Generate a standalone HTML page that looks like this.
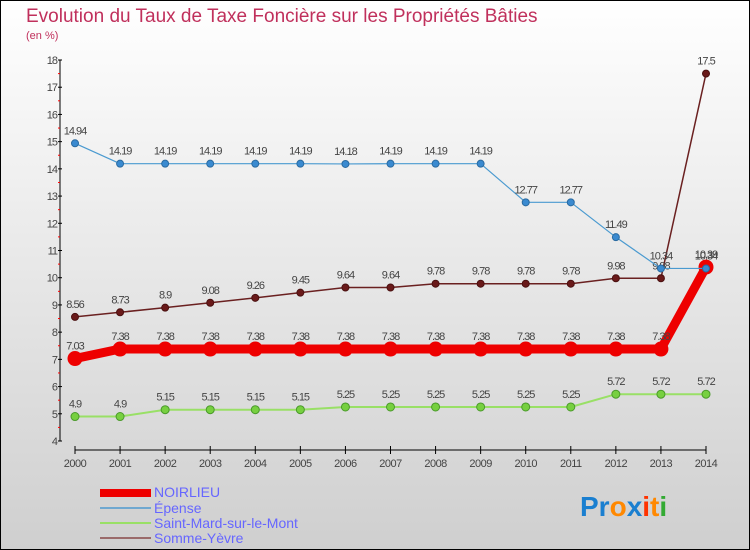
<!DOCTYPE html>
<html><head><meta charset="utf-8"><style>
body{margin:0;width:750px;height:550px;overflow:hidden}
svg{display:block;font-family:"Liberation Sans",sans-serif}
</style></head><body>
<svg id="c" width="750" height="550">
<defs><linearGradient id="bg" x1="0" y1="0" x2="0" y2="1"><stop offset="0" stop-color="#ffffff"/><stop offset="1" stop-color="#cfcfcf"/></linearGradient></defs>
<rect x="0.5" y="0.5" width="749" height="549" fill="url(#bg)" stroke="#000"/>
<text x="26" y="22" font-size="19" fill="#c0305c">Evolution du Taux de Taxe Foncière sur les Propriétés Bâties</text>
<text x="26" y="39" font-size="11" fill="#c0305c">(en %)</text>
<g id="axes"></g><g id="series"></g>
<g>
<rect x="100" y="489" width="51" height="8" fill="#ee0000"/>
<text x="154" y="497" font-size="14" fill="#6666ff">NOIRLIEU</text>
<rect x="100" y="507" width="51" height="2" fill="#6fa8d0"/>
<text x="154" y="513" font-size="14" fill="#6666ff">Épense</text>
<rect x="100" y="522" width="51" height="2" fill="#99e066"/>
<text x="154" y="528" font-size="14" fill="#6666ff">Saint-Mard-sur-le-Mont</text>
<rect x="100" y="537" width="51" height="2" fill="#9a6a6a"/>
<text x="154" y="543" font-size="14" fill="#6666ff">Somme-Yèvre</text>
</g>
<text x="580" y="516" font-size="28" font-weight="bold"><tspan fill="#1a7fd0">Pr</tspan><tspan fill="#ff8800">o</tspan><tspan fill="#1a7fd0">x</tspan><tspan fill="#ff3300">i</tspan><tspan fill="#ff8800">t</tspan><tspan fill="#33aa33">i</tspan></text>
</svg>
<script>
const years=[2000,2001,2002,2003,2004,2005,2006,2007,2008,2009,2010,2011,2012,2013,2014];
const noirlieu=[7.03,7.38,7.38,7.38,7.38,7.38,7.38,7.38,7.38,7.38,7.38,7.38,7.38,7.38,10.39];
const epense=[14.94,14.19,14.19,14.19,14.19,14.19,14.18,14.19,14.19,14.19,12.77,12.77,11.49,10.34,10.34];
const saintMard=[4.9,4.9,5.15,5.15,5.15,5.15,5.25,5.25,5.25,5.25,5.25,5.25,5.72,5.72,5.72];
const sommeYevre=[8.56,8.73,8.9,9.08,9.26,9.45,9.64,9.64,9.78,9.78,9.78,9.78,9.98,9.98,17.5];
const yTicks=[4,5,6,7,8,9,10,11,12,13,14,15,16,17,18];
const NS="http://www.w3.org/2000/svg";
const X=i=>75+i*(631/14), Y=v=>441-(v-4)*(381/14);
function mk(t,a,p){const e=document.createElementNS(NS,t);for(const k in a)e.setAttribute(k,a[k]);p.appendChild(e);return e;}
const ax=document.getElementById('axes');
let yl=mk('line',{x1:60,y1:60,x2:60,y2:441,stroke:'#000','stroke-width':1},ax);


let xl=mk('line',{x1:75,y1:450,x2:706,y2:450,stroke:'#000','stroke-width':1},ax);


yTicks.forEach(v=>{const y=Y(v);
 mk('line',{x1:58,y1:y,x2:62,y2:y,stroke:'#000'},ax);
 if(v<18)mk('line',{x1:58,y1:Y(v+0.5),x2:60,y2:Y(v+0.5),stroke:'#f00'},ax);
 const t=mk('text',{x:57,y:y+4,'font-size':11,fill:'#444','text-anchor':'end','letter-spacing':'-1'},ax);t.textContent=v;
 
 
});
years.forEach((yr,i)=>{const x=X(i);
 mk('line',{x1:x,y1:446,x2:x,y2:454,stroke:'#000'},ax);
 const t=mk('text',{x:x,y:467,'font-size':11,fill:'#444','text-anchor':'middle','letter-spacing':'-0.5'},ax);t.textContent=yr;
 
 
});
const sg=document.getElementById('series');
function draw(vals,name,color,dot,w,r,stroke){
 const g=mk('g',{},sg);
 
 
 const pl=mk('polyline',{points:vals.map((v,i)=>X(i)+','+Y(v)).join(' '),fill:'none',stroke:color,'stroke-width':w,'stroke-linejoin':'round'},g);
 
 
 vals.forEach((v,i)=>{
  const c=mk('circle',{cx:X(i),cy:Y(v),r:r,fill:dot,stroke:stroke,'stroke-width':1},g);
  
  
  const t=mk('text',{x:X(i),y:Y(v)-9,'font-size':11,fill:'#444','text-anchor':'middle','letter-spacing':'-1'},g);t.textContent=v;
  
  
 });
}
draw(saintMard,'saint-mard','#99e066','#77d040',2,4,'#4a9a2a');
draw(sommeYevre,'somme-yevre','#6a2020','#6a1a1a',1.5,3.5,'#4a1010');
draw(noirlieu,'noirlieu','#ee0000','#ee0000',9,7,'#ee0000');
draw(epense,'epense','#4a9ad0','#3a8ad0',1.2,3.5,'#2a6aa0');
</script>
</body></html>
